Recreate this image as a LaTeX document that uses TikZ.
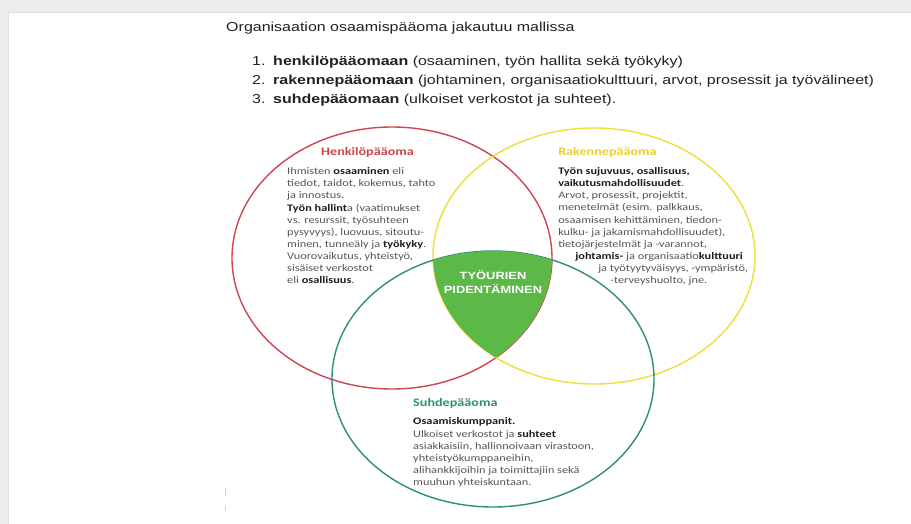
\documentclass[tikz,border=0pt]{standalone}
\usepackage{fontspec}
\setmainfont{Liberation Sans}
\newfontfamily\bodyfont{Carlito}
\definecolor{pagegray}{HTML}{ECECEC}
\definecolor{inkdark}{HTML}{222222}
\definecolor{bodygray}{HTML}{555555}
\definecolor{boldink}{HTML}{1E1E1E}
\definecolor{redc}{HTML}{CD4650}
\definecolor{yellowc}{HTML}{EEDE3A}
\definecolor{tealc}{HTML}{2E8F78}
\definecolor{greenc}{HTML}{5CB847}
\definecolor{redtitle}{HTML}{C9484E}
\definecolor{yellowtitle}{HTML}{E9D033}
\definecolor{tealtitle}{HTML}{2A9078}
\newcommand{\bb}[1]{{\bfseries\color{boldink}#1}}
\begin{document}
% multi-line body nodes are placed by the baseline of their last line
\begin{tikzpicture}[x=1pt,y=-1pt,
  sx/.style={xscale=1.23},
  head/.style={sx, inner sep=0, anchor=base west, text=inkdark,
    font=\fontsize{13}{15}\selectfont},
  body/.style={sx, inner sep=0, anchor=base west, align=left, text=bodygray,
    font=\bodyfont\fontsize{10}{12.15}\selectfont},
  ctitle/.style={sx, inner sep=0, anchor=base west,
    font=\bodyfont\bfseries\fontsize{11.5}{12}\selectfont},
  ring/.style={line width=1.4pt},
]
% page background with the light frame
\useasboundingbox (0,0) rectangle (911,524);
\fill[pagegray] (0,0) rectangle (911,524);
\fill[white] (8,12) rectangle (911,524);
\draw[gray!25, line width=0.6pt] (8,524) -- (8,12) -- (911,12);

% heading and numbered list
\node[head] (title) at (226,32) {Organisaation osaamispääoma jakautuu mallissa};
\node[head] (n1) at (252,65.5) {1.};
\node[head] (l1) at (273,65.5) {\textbf{henkilöpääomaan} (osaaminen, työn hallita sekä työkyky)};
\node[head] (n2) at (252,84.5) {2.};
\node[head] (l2) at (273,84.5) {\textbf{rakennepääomaan} (johtaminen, organisaatiokulttuuri, arvot, prosessit ja työvälineet)};
\node[head] (n3) at (252,103.5) {3.};
\node[head] (l3) at (273,103.5) {\textbf{suhdepääomaan} (ulkoiset verkostot ja suhteet).};

% the three capital areas
\draw[ring, redc] (392,258) ellipse [x radius=160, y radius=131];
\draw[ring, yellowc] (594,256) ellipse [x radius=161, y radius=128];
\draw[ring, tealc] (493,379) ellipse [x radius=161, y radius=128];

% common core of all three
\begin{scope}
  \clip (392,258) ellipse [x radius=160, y radius=131];
  \clip (594,256) ellipse [x radius=161, y radius=128];
  \fill[greenc] (493,379) ellipse [x radius=161, y radius=128];
\end{scope}
\node[sx, text=white, align=center, inner sep=0,
  font=\bfseries\fontsize{10.5}{14}\selectfont] (core) at (493,282)
  {TYÖURIEN\\PIDENTÄMINEN};

% Henkilöpääoma
\node[ctitle, text=redtitle] (htitle) at (321,156) {Henkilöpääoma};
\node[body] (hbody) at (287,283.9) {Ihmisten \bb{osaaminen} eli\\
tiedot, taidot, kokemus, tahto\\
ja innostus.\\
\bb{Työn hallint}a (vaatimukset\\
vs. resurssit, työsuhteen\\
pysyvyys), luovuus, sitoutu-\\
minen, tunneäly ja \bb{työkyky}.\\
Vuorovaikutus, yhteistyö,\\
sisäiset verkostot\\
eli \bb{osallisuus}.};

% Rakennepääoma
\node[ctitle, text=yellowtitle] (rtitle) at (558,156) {Rakennepääoma};
\node[body] (rbody) at (558,247.4) {\bb{Työn sujuvuus, osallisuus,}\\
\bb{vaikutusmahdollisuudet}.\\
Arvot, prosessit, projektit,\\
menetelmät (esim. palkkaus,\\
osaamisen kehittäminen, tiedon-\\
kulku- ja jakamismahdollisuudet),\\
tietojärjestelmät ja -varannot,};
\node[body] (r8) at (575,259.5) {\bb{johtamis-} ja organisaatio\bb{kulttuuri}};
\node[body] (r9) at (598,271.6) {ja työtyytyväisyys, -ympäristö,};
\node[body] (r10) at (610,283.8) {-terveyshuolto, jne.};

% Suhdepääoma
\node[ctitle, text=tealtitle] (stitle) at (413,406) {Suhdepääoma};
\node[body] (sbody) at (413,485.7) {\bb{Osaamiskumppanit.}\\
Ulkoiset verkostot ja \bb{suhteet}\\
asiakkaisiin, hallinnoivaan virastoon,\\
yhteistyökumppaneihin,\\
alihankkijoihin ja toimittajiin sekä\\
muuhun yhteiskuntaan.};

% faint marks at the lower left
\draw[gray!35, line width=0.8pt] (225,488) -- (225,496);
\draw[gray!35, line width=0.8pt] (225,506) -- (225,512);
\end{tikzpicture}
\end{document}
